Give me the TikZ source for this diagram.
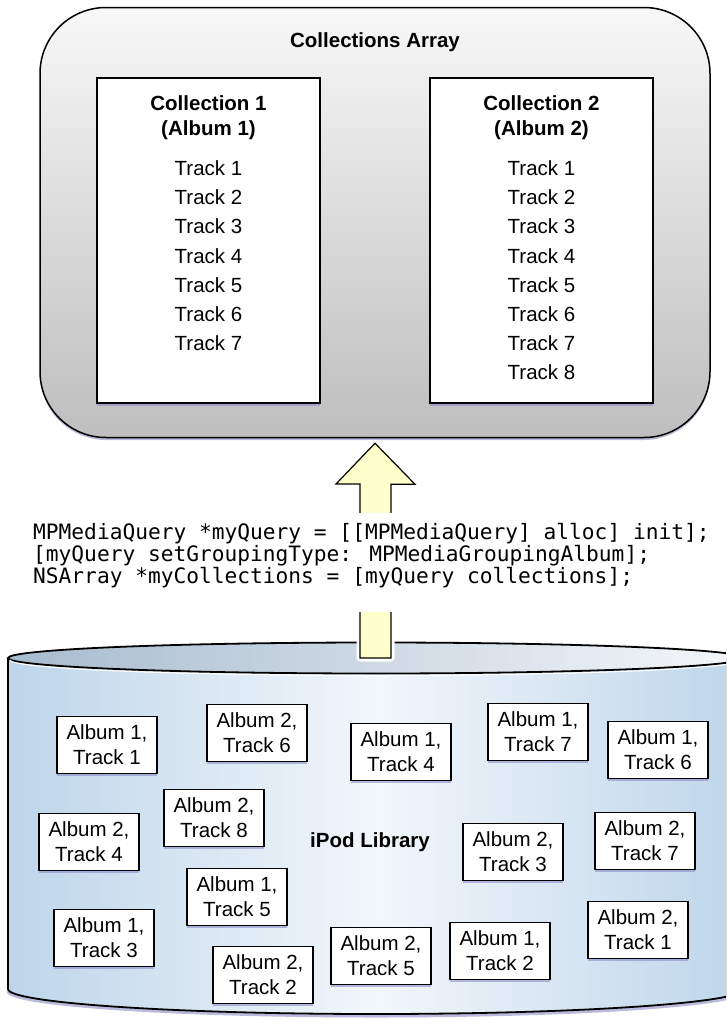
\documentclass[tikz,border=0pt]{standalone}
\usepackage{fontspec}
\setmainfont{Liberation Sans}
\newfontfamily\codefont{DejaVu Sans Mono}
\usetikzlibrary{shadows}

\definecolor{arraytop}{HTML}{F8F8F8}
\definecolor{arraybottom}{HTML}{BDBEBD}
\definecolor{shadowblue}{HTML}{8C8CC6}
\definecolor{libblue}{HTML}{BDD5EA}
\definecolor{liblight}{HTML}{F2F7FB}
\definecolor{lidleft}{HTML}{A7BCCF}
\definecolor{lidright}{HTML}{F5F7F9}
\definecolor{arrowyellow}{HTML}{FFFFCC}

\tikzset{
  plain/.style={font=\fontsize{20.5}{24}\selectfont, inner sep=0pt},
  heading/.style={font=\fontsize{20.5}{25}\selectfont\bfseries, align=center, inner sep=0pt},
  softshadow/.style={drop shadow={shadow xshift=0pt, shadow yshift=-2.5pt, fill=shadowblue, opacity=0.6}},
  arraybox/.style={draw, line width=1.5pt, rounded corners=66pt, minimum width=670pt, minimum height=430pt,
    top color=arraytop, bottom color=arraybottom, softshadow},
  collbox/.style={draw, line width=1.6pt, fill=white, minimum width=223pt, minimum height=325pt, softshadow},
  trackbox/.style={draw, line width=1.2pt, fill=white, minimum width=100pt, minimum height=57pt, inner sep=0pt,
    align=center, font=\fontsize{20.5}{25}\selectfont, softshadow},
  codetext/.style={font=\codefont\fontsize{21.2}{22}\selectfont, align=left, inner sep=0pt},
  arrowbody/.style={draw, line width=1.2pt, fill=arrowyellow, preaction={draw=white, line width=7pt, line join=round}}
}

\begin{document}
\begin{tikzpicture}[x=1pt,y=-1pt]
    \useasboundingbox (0,0) rectangle (726,1020);
    \clip (0,0) rectangle (726,1020);

    % collections array
    \node (array) at (375,222.5) [arraybox] {};
    \node (title) at (375,42) [heading] {Collections Array};

    \node (coll1) at (208.5,240.5) [collbox] {};
    \node (coll2) at (541.5,240.5) [collbox] {};

    \node (head1) at (208.5,118) [heading] {Collection 1\\(Album 1)};
    \node (head2) at (541.5,118) [heading] {Collection 2\\(Album 2)};

    \node (c1t1) at (208.5,168) [plain] {Track 1};
    \node (c1t2) at (208.5,197) [plain] {Track 2};
    \node (c1t3) at (208.5,226) [plain] {Track 3};
    \node (c1t4) at (208.5,256) [plain] {Track 4};
    \node (c1t5) at (208.5,285) [plain] {Track 5};
    \node (c1t6) at (208.5,314) [plain] {Track 6};
    \node (c1t7) at (208.5,343) [plain] {Track 7};

    \node (c2t1) at (541.5,168) [plain] {Track 1};
    \node (c2t2) at (541.5,197) [plain] {Track 2};
    \node (c2t3) at (541.5,226) [plain] {Track 3};
    \node (c2t4) at (541.5,256) [plain] {Track 4};
    \node (c2t5) at (541.5,285) [plain] {Track 5};
    \node (c2t6) at (541.5,314) [plain] {Track 6};
    \node (c2t7) at (541.5,343) [plain] {Track 7};
    \node (c2t8) at (541.5,372) [plain] {Track 8};

    % ipod library cylinder
    \coordinate (libtop) at (376,658);
    \draw[shadowblue, line width=3pt, opacity=0.6] (8,991) arc[start angle=180, end angle=0, x radius=368, y radius=25];
    \fill[left color=libblue, right color=libblue, middle color=liblight] (8,658) -- (8,989)
        arc[start angle=180, end angle=0, x radius=368, y radius=25] -- (744,658) -- cycle;
    \draw[line width=1.8pt] (8,658) -- (8,989) arc[start angle=180, end angle=0, x radius=368, y radius=25];
    \draw[line width=1.8pt, left color=lidleft, right color=lidright] (libtop) ellipse[x radius=368, y radius=15.5];
    \draw[white, line width=1pt] (10,660) arc[start angle=180, end angle=0, x radius=366, y radius=15.5];

    \node (a1t1) at (107,745) [trackbox] {Album 1,\\Track 1};
    \node (a2t6) at (257,733) [trackbox] {Album 2,\\Track 6};
    \node (a1t4) at (401,752) [trackbox] {Album 1,\\Track 4};
    \node (a1t7) at (538,732) [trackbox] {Album 1,\\Track 7};
    \node (a1t6) at (658,750) [trackbox] {Album 1,\\Track 6};
    \node (a2t8) at (214,818) [trackbox] {Album 2,\\Track 8};
    \node (a2t4) at (89,842) [trackbox] {Album 2,\\Track 4};
    \node (a2t3) at (513,852) [trackbox] {Album 2,\\Track 3};
    \node (a2t7) at (645,841) [trackbox] {Album 2,\\Track 7};
    \node (a1t5) at (237,897) [trackbox] {Album 1,\\Track 5};
    \node (a1t3) at (104,938) [trackbox] {Album 1,\\Track 3};
    \node (a2t2) at (263,975) [trackbox] {Album 2,\\Track 2};
    \node (a2t5) at (381,956) [trackbox] {Album 2,\\Track 5};
    \node (a1t2) at (500,951) [trackbox] {Album 1,\\Track 2};
    \node (a2t1) at (638,930) [trackbox] {Album 2,\\Track 1};

    \node (library) at (370,842) [heading] {iPod Library};

    % query arrow
    \coordinate (tip) at ([yshift=-5pt]array.south);
    \draw[arrowbody] (tip) -- ++(40,41) -- ++(-24,0) |- ([xshift=-16pt]libtop) -- ++(0,-174) -- ++(-24,0) -- cycle;

    \fill[white] (355,513) rectangle (395,612);
    \node (query) at (33,556) [codetext, anchor=west] {MPMediaQuery *myQuery = [[MPMediaQuery] alloc] init];\\{[}myQuery setGroupingType: MPMediaGroupingAlbum];\\NSArray *myCollections = [myQuery collections];};

\end{tikzpicture}
\end{document}
